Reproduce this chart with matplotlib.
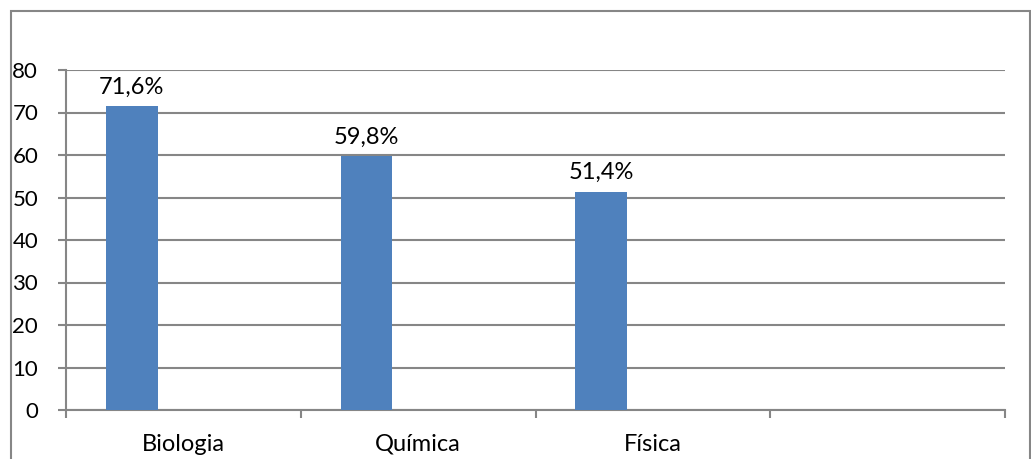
import matplotlib
matplotlib.use("Agg")
import matplotlib.pyplot as plt
from matplotlib.patches import Rectangle
import numpy as np

categories = ["Biologia", "Química", "Física", ""]
values = [71.6, 59.8, 51.4]
value_labels = ["71,6%", "59,8%", "51,4%"]
yticks = [0, 10, 20, 30, 40, 50, 60, 70, 80]

W, H = 1031, 459
fig = plt.figure(figsize=(W / 100, H / 100), dpi=100)
plt.rcParams['font.family'] = ['Lato', 'DejaVu Sans']
FS = 17

ax = fig.add_axes([66 / W, (H - 410) / H, (1005 - 66) / W, (410 - 70) / H])

grid_c = "#868686"
bar_c = "#4F81BD"

n = len(categories)
slot_centers = np.arange(n) + 0.5
bar_pos = slot_centers[:len(values)] - 0.22
bars = ax.bar(bar_pos, values, width=0.22, color=bar_c, zorder=3)
for b, lab in zip(bars, value_labels):
    ax.annotate(lab, (b.get_x() + b.get_width() / 2, b.get_height()),
                xytext=(0, 6), textcoords="offset points",
                ha="center", va="bottom", fontsize=FS, color="black")

ax.set_xlim(0, n)
ax.set_ylim(0, 80)
ax.set_yticks(yticks)
ax.set_yticklabels([str(t) for t in yticks], fontsize=16)
ax.set_xticks(np.arange(n + 1))
ax.set_xticklabels([])
ax.set_xticks(slot_centers, minor=True)
ax.set_xticklabels(categories, minor=True, fontsize=FS)
ax.tick_params(axis="x", which="major", length=6, width=1.5, color=grid_c, direction="out")
ax.tick_params(axis="x", which="minor", length=0, pad=17)
ax.tick_params(axis="y", length=6, width=1.5, color=grid_c, pad=14)

ax.yaxis.grid(True, color=grid_c, linewidth=1.5, zorder=0)
ax.set_axisbelow(True)
for s in ["top", "right"]:
    ax.spines[s].set_visible(False)
for s in ["left", "bottom"]:
    ax.spines[s].set_color(grid_c)
    ax.spines[s].set_linewidth(1.5)

# outer chart border
fig.patches.append(Rectangle((10.5 / W, -0.05), (1030 - 10.5) / W, (H - 10.5) / H + 0.05,
                             transform=fig.transFigure, fill=False,
                             edgecolor=grid_c, linewidth=1.5))

fig.savefig("out.png", dpi=100)
